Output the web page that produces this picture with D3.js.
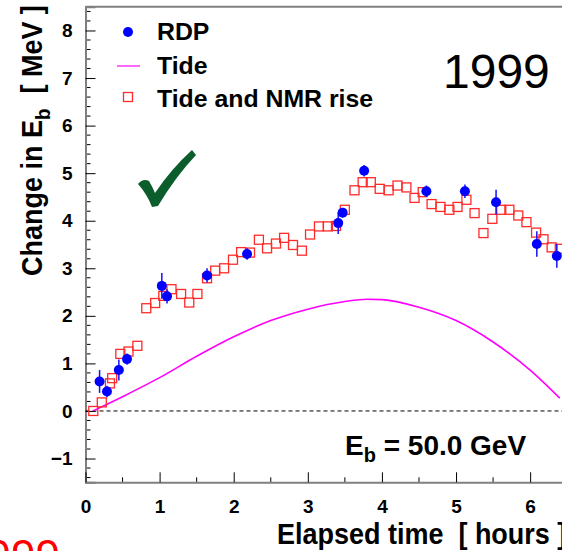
<!DOCTYPE html>
<html><head><meta charset="utf-8">
<script src="https://cdn.jsdelivr.net/npm/d3@7/dist/d3.min.js"></script>
<style>
html,body{margin:0;padding:0;background:#fff;overflow:hidden;}
svg text{font-family:"Liberation Sans",Arial,sans-serif;}
</style></head>
<body>
<script>
// ---- data ----
const rdpX   = [0.19, 0.29, 0.45, 0.56, 1.03, 1.10, 1.64, 2.18, 3.41, 3.47, 3.76, 4.60, 5.12, 5.54, 6.09, 6.36];
const rdpY   = [0.62, 0.41, 0.86, 1.09, 2.63, 2.41, 2.85, 3.30, 3.95, 4.17, 5.05, 4.62, 4.62, 4.39, 3.51, 3.26];
const rdpErr = [0.24, 0.12, 0.22, 0.12, 0.27, 0.15, 0.15, 0.12, 0.23, 0.10, 0.12, 0.12, 0.14, 0.26, 0.27, 0.25];

const nmrX = [0.105, 0.22, 0.33, 0.36, 0.47, 0.58, 0.70, 0.82, 0.94, 1.05, 1.16, 1.29, 1.40, 1.51, 1.64, 1.75,
              1.87, 1.99, 2.10, 2.22, 2.34, 2.45, 2.57, 2.68, 2.80, 2.92, 3.03, 3.15, 3.27, 3.38, 3.50, 3.63,
              3.74, 3.85, 3.97, 4.09, 4.21, 4.33, 4.44, 4.55, 4.67, 4.79, 4.91, 5.02, 5.14, 5.25, 5.37, 5.49,
              5.61, 5.72, 5.84, 5.95, 6.08, 6.18, 6.29, 6.40];
const nmrY = [0.00, 0.18, 0.58, 0.69, 1.20, 1.25, 1.37, 2.16, 2.27, 2.42, 2.56, 2.46, 2.28, 2.46, 2.79, 2.95,
              3.00, 3.18, 3.34, 3.33, 3.60, 3.42, 3.52, 3.64, 3.49, 3.37, 3.71, 3.88, 3.88, 3.89, 4.23, 4.64,
              4.81, 4.81, 4.67, 4.64, 4.74, 4.70, 4.48, 4.60, 4.35, 4.29, 4.23, 4.29, 4.44, 4.16, 3.74, 4.04,
              4.23, 4.23, 4.11, 3.97, 3.75, 3.61, 3.44, 3.41];

const tideX = [0.10, 0.50, 1.00, 1.50, 2.00, 2.50, 3.00, 3.50, 3.80, 4.00, 4.50, 5.00, 5.50, 6.00, 6.40];
const tideY = [0.00, 0.30, 0.70, 1.15, 1.56, 1.90, 2.14, 2.30, 2.35, 2.34, 2.18, 1.90, 1.45, 0.86, 0.27];

const xTicks = [0, 1, 2, 3, 4, 5, 6];
const yTicks = [-1, 0, 1, 2, 3, 4, 5, 6, 7, 8];
const legendLabels = ["RDP", "Tide", "Tide and NMR rise"];

// ---- drawing ----
const W = 562, H = 551;
const svg = d3.select("body").append("svg").attr("width", W).attr("height", H);

const x = d3.scaleLinear().domain([0, 6.5]).range([85.5, 567.2]);
const y = d3.scaleLinear().domain([-1.5, 8.5]).range([482.3, 6.7]);

const AX = "#808080";
const FONT = "Liberation Sans, Arial, sans-serif";
// top frame line
svg.append("line").attr("x1", x(0)).attr("x2", W).attr("y1", y(8.5)).attr("y2", y(8.5)).attr("stroke", AX).attr("stroke-width", 2);

// y axis
const yMinor = d3.range(-1.4, 8.5, 0.2).map(v => +v.toFixed(2)).filter(v => Math.abs(v - Math.round(v)) > 1e-6);
const yAxis = svg.append("g").attr("transform", `translate(${x(0)},0)`);
yAxis.selectAll("line.min").data(yMinor).join("line")
  .attr("x1", 0).attr("x2", 5).attr("y1", d => y(d)).attr("y2", d => y(d)).attr("stroke", "#000").attr("stroke-width", 1);
yAxis.call(d3.axisLeft(y).tickValues(yTicks).tickSize(-10).tickPadding(13).tickFormat(d3.format("d")));
yAxis.select(".domain").attr("stroke", AX).attr("stroke-width", 2);
yAxis.selectAll(".tick text").attr("font-size", 19).attr("font-weight", "bold").attr("font-family", FONT).attr("fill", "#000");

// x axis
const xMinor = [0.5, 1.5, 2.5, 3.5, 4.5, 5.5];
const xAxis = svg.append("g").attr("transform", `translate(0,${y(-1.5)})`);
xAxis.selectAll("line.min").data(xMinor).join("line")
  .attr("x1", d => x(d)).attr("x2", d => x(d)).attr("y1", 0).attr("y2", -5).attr("stroke", "#000");
xAxis.call(d3.axisBottom(x).tickValues(xTicks).tickSize(-10).tickPadding(17).tickFormat(d3.format("d")));
xAxis.select(".domain").attr("stroke", AX).attr("stroke-width", 2);
xAxis.selectAll(".tick text").attr("font-size", 19).attr("font-weight", "bold").attr("font-family", FONT).attr("fill", "#000");

// zero dashed line
svg.append("line").attr("x1", x(0)).attr("x2", W).attr("y1", y(0)).attr("y2", y(0))
  .attr("stroke", "#000").attr("stroke-width", 1).attr("stroke-dasharray", "4,3");

// tide curve
const tide = tideX.map((v, i) => [v, tideY[i]]);
svg.append("path").datum(tide)
  .attr("d", d3.line().x(d => x(d[0])).y(d => y(d[1])).curve(d3.curveMonotoneX))
  .attr("fill", "none").attr("stroke", "#ff00ff").attr("stroke-width", 1.6);

// squares
const S = 9;
svg.append("g").selectAll("rect").data(nmrX.map((v, i) => [v, nmrY[i]])).join("rect")
  .attr("x", d => x(d[0]) - S / 2).attr("y", d => y(d[1]) - S / 2).attr("width", S).attr("height", S)
  .attr("fill", "none").attr("stroke", "#ff2a2a").attr("stroke-width", 1.3);

// RDP points
const rdp = rdpX.map((v, i) => ({x: v, y: rdpY[i], e: rdpErr[i]}));
const gR = svg.append("g");
gR.selectAll("line").data(rdp).join("line")
  .attr("x1", d => x(d.x)).attr("x2", d => x(d.x)).attr("y1", d => y(d.y - d.e)).attr("y2", d => y(d.y + d.e))
  .attr("stroke", "#1010ff").attr("stroke-width", 1.5);
gR.selectAll("circle").data(rdp).join("circle")
  .attr("cx", d => x(d.x)).attr("cy", d => y(d.y)).attr("r", 5).attr("fill", "#0000ff");

// legend
const lg = svg.append("g");
lg.append("circle").attr("cx", 128).attr("cy", 32).attr("r", 5).attr("fill", "#0000ff");
lg.append("line").attr("x1", 117).attr("x2", 140).attr("y1", 66).attr("y2", 66).attr("stroke", "#ff00ff").attr("stroke-width", 1.2);
lg.append("rect").attr("x", 128 - S / 2).attr("y", 97 - S / 2).attr("width", S).attr("height", S)
  .attr("fill", "none").attr("stroke", "#ff2a2a").attr("stroke-width", 1.3);
lg.selectAll("g.lt").data(legendLabels).join("g")
  .attr("transform", (d, i) => `translate(157,${[40, 74, 107][i]}) scale(1.08,1)`)
  .append("text").attr("font-size", 23).attr("font-weight", "bold").text(d => d);

// 1999 label
svg.append("text").attr("x", 443).attr("y", 88).attr("font-size", 48).text("1999");

// red 1999 (clipped, bottom-left)
svg.append("text").attr("x", -38).attr("y", 571).attr("font-size", 44).attr("fill", "#ff0000").text("1999");

// checkmark
svg.append("path")
  .attr("d", "M138,184 Q143,178 149,181 Q152,186 155,193 Q171,169 192,150 L196,155 Q176,176 158,206 L152,207 Q147,194 138,184 Z")
  .attr("fill", "#0b5e2b");

// E_b = 50.0 GeV
const eb = svg.append("text").attr("x", 345).attr("y", 455).attr("font-size", 28).attr("font-weight", "bold");
eb.append("tspan").text("E");
eb.append("tspan").attr("font-size", 20).attr("dy", 7).text("b");
eb.append("tspan").attr("dy", -7).text(" = 50.0 GeV");

// x title
svg.append("g").attr("transform", "translate(277,544) scale(0.9,1)")
  .append("text").attr("font-size", 30).attr("font-weight", "bold")
  .attr("xml:space", "preserve").text("Elapsed time  [ hours ]");

// y title
const yt = svg.append("g").attr("transform", "translate(42,276) rotate(-90) scale(0.9,1)")
  .append("text").attr("font-size", 30).attr("font-weight", "bold").attr("xml:space", "preserve");
yt.append("tspan").text("Change in E");
yt.append("tspan").attr("font-size", 21).attr("dy", 8).text("b");
yt.append("tspan").attr("dy", -8).text("  [ MeV ]");
</script>
</body></html>
